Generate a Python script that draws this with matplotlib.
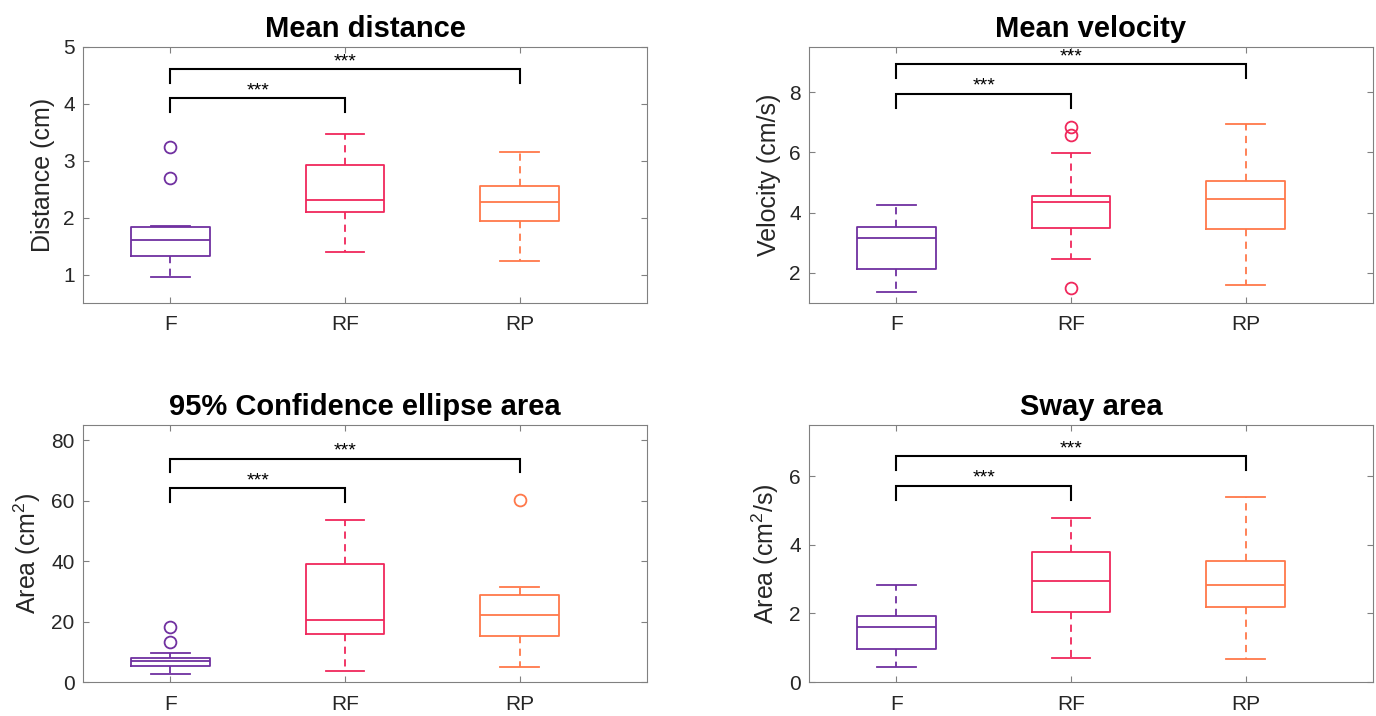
import matplotlib
matplotlib.use('Agg')
import matplotlib.pyplot as plt

plt.rcParams['font.family'] = ['Liberation Sans', 'DejaVu Sans']
plt.rcParams['mathtext.default'] = 'regular'

groups = ['F', 'RF', 'RP']
colors = ['#7030A0', '#F0285C', '#FF784A']

# box stats per group: lower whisker, q1, median, q3, upper whisker
dist_lo = [0.95, 1.40, 1.23]
dist_q1 = [1.33, 2.10, 1.94]
dist_med = [1.60, 2.31, 2.28]
dist_q3 = [1.84, 2.92, 2.55]
dist_hi = [1.86, 3.47, 3.16]
dist_out = [[3.25, 2.69], [], []]

vel_lo = [1.38, 2.47, 1.61]
vel_q1 = [2.14, 3.49, 3.46]
vel_med = [3.15, 4.35, 4.45]
vel_q3 = [3.54, 4.55, 5.05]
vel_hi = [4.24, 5.99, 6.93]
vel_out = [[], [6.85, 6.59, 1.51], []]

ell_lo = [2.7, 3.8, 5.0]
ell_q1 = [5.2, 15.8, 15.2]
ell_med = [7.0, 20.5, 22.2]
ell_q3 = [7.9, 39.1, 28.7]
ell_hi = [9.6, 53.6, 31.3]
ell_out = [[18.2, 13.3], [], [60.2]]

sway_lo = [0.43, 0.70, 0.67]
sway_q1 = [0.96, 2.04, 2.18]
sway_med = [1.61, 2.94, 2.83]
sway_q3 = [1.94, 3.80, 3.54]
sway_hi = [2.84, 4.78, 5.39]
sway_out = [[], [], []]

# significance brackets: (group a, group b, bar level, leg bottom)
dist_sig = [(1, 2, 4.10, 3.86), (1, 3, 4.61, 4.37)]
vel_sig = [(1, 2, 7.95, 7.48), (1, 3, 8.93, 8.46)]
ell_sig = [(1, 2, 64.1, 59.6), (1, 3, 73.9, 69.3)]
sway_sig = [(1, 2, 5.73, 5.32), (1, 3, 6.59, 6.18)]

panels = [
    ('Mean distance', 'Distance (cm)', (dist_lo, dist_q1, dist_med, dist_q3, dist_hi, dist_out),
     dist_sig, (0.5, 5), [1, 2, 3, 4, 5]),
    ('Mean velocity', 'Velocity (cm/s)', (vel_lo, vel_q1, vel_med, vel_q3, vel_hi, vel_out),
     vel_sig, (1, 9.5), [2, 4, 6, 8]),
    ('95% Confidence ellipse area', 'Area (cm$^2$)', (ell_lo, ell_q1, ell_med, ell_q3, ell_hi, ell_out),
     ell_sig, (0, 85), [0, 20, 40, 60, 80]),
    ('Sway area', 'Area (cm$^2$/s)', (sway_lo, sway_q1, sway_med, sway_q3, sway_hi, sway_out),
     sway_sig, (0, 7.5), [0, 2, 4, 6]),
]

W, H = 1376, 716
fig = plt.figure(figsize=(W / 100, H / 100), dpi=100)

# axes boxes in pixels: left, top, right, bottom
boxes_px = [(83, 47, 647, 303), (809, 47, 1373, 303),
            (83, 425, 647, 682), (809, 425, 1373, 682)]

text_col = '#262626'
spine_col = '#808080'

for (title, ylabel, st, sig, ylim, yticks), (l, t, r, b) in zip(panels, boxes_px):
    ax = fig.add_axes([l / W, 1 - b / H, (r - l) / W, (b - t) / H])
    lo, q1, med, q3, hi, out = st
    for i in range(3):
        stats = [dict(whislo=lo[i], q1=q1[i], med=med[i], q3=q3[i], whishi=hi[i], fliers=out[i])]
        c = colors[i]
        ax.bxp(stats, positions=[i + 1], widths=0.45, capwidths=0.22,
               showfliers=True,
               boxprops=dict(color=c, linewidth=1.3),
               medianprops=dict(color=c, linewidth=1.3),
               whiskerprops=dict(color=c, linewidth=1.3, linestyle=(0, (4, 3))),
               capprops=dict(color=c, linewidth=1.3),
               flierprops=dict(marker='o', markerfacecolor='none', markeredgecolor=c,
                               markersize=8.5, markeredgewidth=1.3))
    for a, bb, top, leg in sig:
        ax.plot([a, a, bb, bb], [leg, top, top, leg], color='black', linewidth=1.5,
                solid_joinstyle='miter')
        ax.annotate('***', xy=((a + bb) / 2, top), xytext=(0, 5.5), textcoords='offset points',
                    ha='center', va='center', fontsize=14, color='black')
    ax.set_xlim(0.5, 3.73)
    ax.set_ylim(*ylim)
    ax.set_yticks(yticks)
    ax.set_xticks([1, 2, 3])
    ax.set_xticklabels(groups)
    ax.tick_params(direction='in', top=True, right=True, length=4, width=0.8,
                   color=spine_col, labelcolor=text_col, labelsize=15)
    ax.tick_params(axis='x', pad=9)
    ax.tick_params(axis='y', pad=6)
    for s in ax.spines.values():
        s.set_color(spine_col)
        s.set_linewidth(0.8)
    ax.set_title(title, fontsize=21, fontweight='bold', color='black', pad=7)
    ax.set_ylabel(ylabel, fontsize=18, color=text_col, labelpad=6)

fig.savefig('out.png', dpi=100)
